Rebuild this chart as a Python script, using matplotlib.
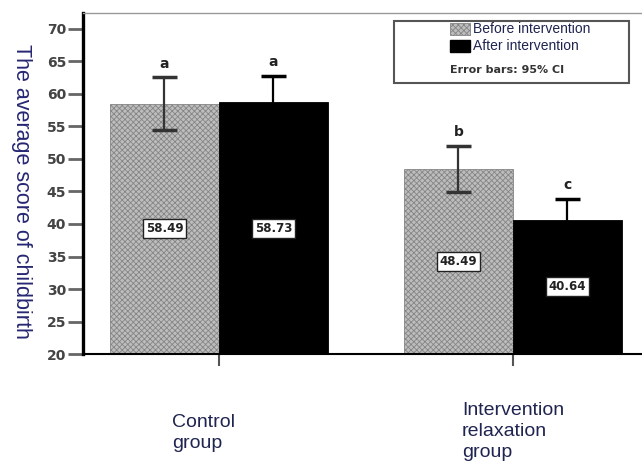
import matplotlib
matplotlib.use('Agg')
import matplotlib.pyplot as plt
from matplotlib.patches import Rectangle
import numpy as np

# data
groups = ['Control\ngroup', 'Intervention\nrelaxation\ngroup']
before = [58.49, 48.49]
after = [58.73, 40.64]
ci_before = [4.05, 3.5]
ci_after = [4.05, 3.2]
letters_before = ['a', 'b']
letters_after = ['a', 'c']

plt.rcParams['hatch.linewidth'] = 0.6

fig = plt.figure(figsize=(6.42, 4.75), dpi=100)
ax = fig.add_axes([0.129, 0.2547, 0.871, 0.718])

x = np.arange(len(groups))
w = 0.371
gray_kw = dict(color='#bdbdbd', edgecolor='#858585', hatch='xxxxxx', linewidth=0.6)
ax.bar(x - w / 2, before, w, **gray_kw)
ax.bar(x + w / 2, after, w, color='black', edgecolor='black', linewidth=0.6)

err_kw = dict(fmt='none', elinewidth=1.6, capsize=9, capthick=2.5)
ax.errorbar(x - w / 2, before, yerr=ci_before, ecolor='#333333', **err_kw)
ax.errorbar(x + w / 2, after, yerr=ci_after, ecolor='black', **err_kw)

ymin = 20
# significance letters above the caps, values in the middle of the bars
for xs, vals, cis, lets in [(x - w / 2, before, ci_before, letters_before),
                            (x + w / 2, after, ci_after, letters_after)]:
    for xi, v, c, l in zip(xs, vals, cis, lets):
        ax.annotate(l, (xi, v + c), xytext=(0, 5), textcoords='offset points',
                    ha='center', va='bottom', fontsize=10, fontweight='bold', color='#222222')
        ax.text(xi, (v + ymin) / 2, f'{v:.2f}', ha='center', va='center', fontsize=8.5,
                fontweight='bold', color='#222222',
                bbox=dict(boxstyle='square,pad=0.25', facecolor='white', edgecolor='#222222', linewidth=1))

ax.set_ylim(ymin, 72.46)
ax.set_xlim(-0.463, 1.439)
ax.set_yticks(np.arange(20, 71, 5))
ax.set_xticks(x)
ax.set_xticklabels([])
ax.tick_params(axis='y', length=11, width=2, color='#666666', labelsize=10, labelcolor='#444444', pad=1)
ax.tick_params(axis='x', length=8.5, width=1.5, color='#555555')
for lab in ax.get_yticklabels():
    lab.set_fontweight('bold')

ax.spines['left'].set_linewidth(2.4)
ax.spines['left'].set_color('black')
ax.spines['bottom'].set_linewidth(1.5)
ax.spines['top'].set_color('#999999')
ax.spines['top'].set_linewidth(1)
ax.spines['right'].set_visible(False)

txt_color = '#1f2450'
fig.text(0.033, 0.598, 'The average score of childbirth', rotation=-90, ha='center', va='center',
         fontsize=15.5, family=['Liberation Sans', 'DejaVu Sans'], color='#262673')

# group labels below the axis
fig.text(172 / 642, 1 - 414 / 475, groups[0], ha='left', va='top', fontsize=14,
         family=['Liberation Sans', 'DejaVu Sans'], color=txt_color, linespacing=1.3)
fig.text(462 / 642, 1 - 402 / 475, groups[1], ha='left', va='top', fontsize=14,
         family=['Liberation Sans', 'DejaVu Sans'], color=txt_color, linespacing=1.3)

# legend box
ax.add_patch(Rectangle((0.556, 0.795), 0.42, 0.182, transform=ax.transAxes, facecolor='white',
                       edgecolor='#555555', linewidth=1.5, zorder=5))
ax.add_patch(Rectangle((0.657, 0.935), 0.035, 0.036, transform=ax.transAxes, facecolor='#bdbdbd',
                       edgecolor='#858585', hatch='xxxxxx', linewidth=0.6, zorder=6))
ax.add_patch(Rectangle((0.657, 0.886), 0.035, 0.036, transform=ax.transAxes, facecolor='black',
                       edgecolor='black', zorder=6))
ax.text(0.698, 0.953, 'Before intervention', transform=ax.transAxes, ha='left', va='center',
        fontsize=10, family=['Liberation Sans', 'DejaVu Sans'], color=txt_color, zorder=7)
ax.text(0.698, 0.904, 'After intervention', transform=ax.transAxes, ha='left', va='center',
        fontsize=10, family=['Liberation Sans', 'DejaVu Sans'], color=txt_color, zorder=7)
ax.text(0.758, 0.833, 'Error bars: 95% CI', transform=ax.transAxes, ha='center', va='center',
        fontsize=8, fontweight='bold', color='#333333', zorder=7)

fig.savefig('out.png', dpi=100)
